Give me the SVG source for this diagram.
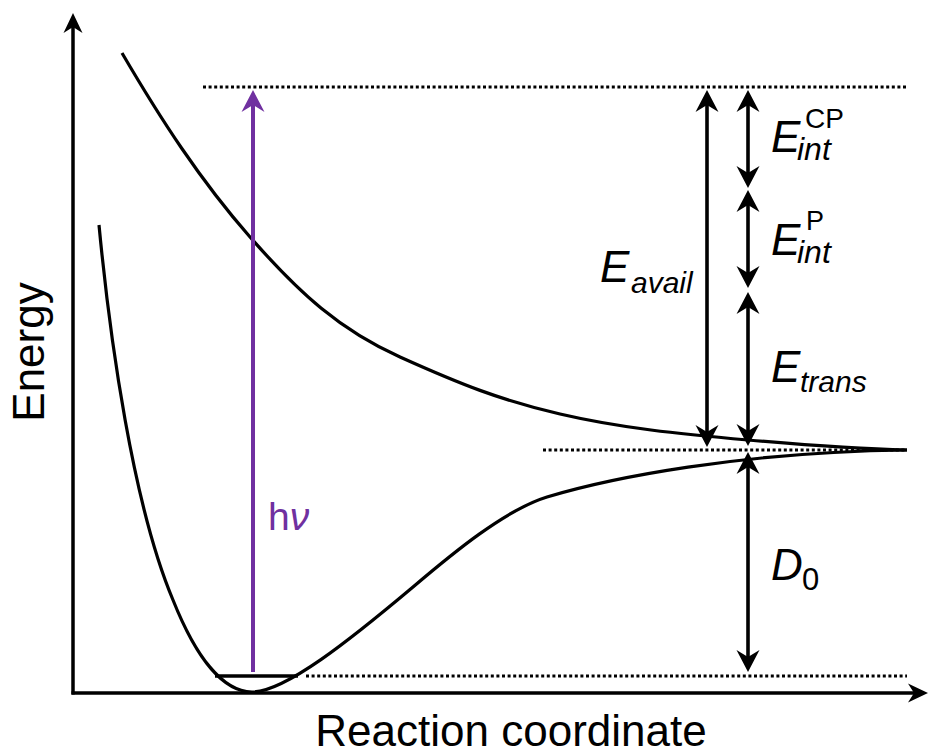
<svg xmlns="http://www.w3.org/2000/svg" width="930" height="756" viewBox="0 0 930 756">
  <style>
    .ax { stroke: #000; stroke-width: 3.5; fill: none; }
    .crv { stroke: #000; stroke-width: 3.2; fill: none; }
    .dot { stroke: #000; stroke-width: 3; stroke-dasharray: 3 2.6; fill: none; }
    .arr { stroke: #000; stroke-width: 3.6; fill: none; }
    .lbl { font-family: "Liberation Sans", Arial, sans-serif; fill: #000; }
    .it { font-style: italic; }
  </style>
  <defs>
    <marker id="ah" viewBox="0 -12 22 24" markerWidth="22" markerHeight="24" refX="14" refY="0" orient="auto-start-reverse" markerUnits="userSpaceOnUse">
      <path d="M22,0 L0,-11.5 L7,0 L0,11.5 Z" fill="#000"/>
    </marker>
    <marker id="axh" viewBox="0 -10 20 20" markerWidth="20" markerHeight="20" refX="13" refY="0" orient="auto-start-reverse" markerUnits="userSpaceOnUse">
      <path d="M20,0 L0,-9.5 L6,0 L0,9.5 Z" fill="#000"/>
    </marker>
    <marker id="ph" viewBox="0 -12 22 24" markerWidth="22" markerHeight="24" refX="14" refY="0" orient="auto-start-reverse" markerUnits="userSpaceOnUse">
      <path d="M22,0 L0,-11.5 L7,0 L0,11.5 Z" fill="#7030A0"/>
    </marker>
  </defs>

  <g id="axes">
    <line class="ax" x1="73" y1="694.5" x2="73" y2="20" marker-end="url(#axh)"/>
    <line class="ax" x1="71.5" y1="693" x2="921" y2="693" marker-end="url(#axh)"/>
    <text class="lbl" font-size="44" text-anchor="middle" transform="translate(44,352) rotate(-90)">Energy</text>
    <text class="lbl" font-size="44" text-anchor="middle" x="511" y="746">Reaction coordinate</text>
  </g>

  <g id="upper-curve">
    <path class="crv" d="M122,53 C160,118 200,180 250,237 S340,330 400,357 S500,400 560,414 S680,434 748,440 S860,449 907,450"/>
  </g>

  <g id="lower-curve">
    <path class="crv" d="M99,225 C110,340 133,505 173,600 C195,655 222,692 252,692 C285,692 350,640 413,587 C453,553 505,510 547,497 C610,478 740,452 907,450"/>
    <line x1="215" y1="676" x2="298" y2="676" stroke="#000" stroke-width="3.5"/>
  </g>

  <g id="levels">
    <line class="dot" x1="203" y1="87" x2="907" y2="87"/>
    <line class="dot" x1="543" y1="450" x2="907" y2="450"/>
    <line class="dot" x1="306" y1="676" x2="907" y2="676"/>
  </g>

  <g id="connectors">
    <line x1="253" y1="672" x2="253" y2="98" stroke="#7030A0" stroke-width="4" marker-end="url(#ph)"/>
    <line class="arr" x1="707" y1="98" x2="707" y2="439" marker-start="url(#ah)" marker-end="url(#ah)"/>
    <line class="arr" x1="748" y1="98" x2="748" y2="180" marker-start="url(#ah)" marker-end="url(#ah)"/>
    <line class="arr" x1="748" y1="198" x2="748" y2="280" marker-start="url(#ah)" marker-end="url(#ah)"/>
    <line class="arr" x1="748" y1="300" x2="748" y2="438" marker-start="url(#ah)" marker-end="url(#ah)"/>
    <line class="arr" x1="748" y1="460" x2="748" y2="664" marker-start="url(#ah)" marker-end="url(#ah)"/>
  </g>

  <g id="label-hv">
    <text class="lbl" font-size="39" x="268" y="530" style="fill:#7030A0">h<tspan class="it">ν</tspan></text>
  </g>
  <g id="label-Eavail">
    <text class="lbl"><tspan class="it" font-size="44" x="600" y="282">E</tspan><tspan class="it" font-size="30" x="631" y="293">avail</tspan></text>
  </g>
  <g id="label-EintCP">
    <text class="lbl"><tspan class="it" font-size="44" x="771" y="152">E</tspan><tspan class="it" font-size="32" x="797" y="160">int</tspan><tspan font-size="28" x="805" y="128">CP</tspan></text>
  </g>
  <g id="label-EintP">
    <text class="lbl"><tspan class="it" font-size="44" x="771" y="255">E</tspan><tspan class="it" font-size="32" x="797" y="263">int</tspan><tspan font-size="27" x="806" y="230">P</tspan></text>
  </g>
  <g id="label-Etrans">
    <text class="lbl"><tspan class="it" font-size="44" x="771" y="382">E</tspan><tspan class="it" font-size="30" x="800" y="392">trans</tspan></text>
  </g>
  <g id="label-D0">
    <text class="lbl"><tspan class="it" font-size="44" x="771" y="580">D</tspan><tspan font-size="31" x="802" y="590">0</tspan></text>
  </g>
</svg>
